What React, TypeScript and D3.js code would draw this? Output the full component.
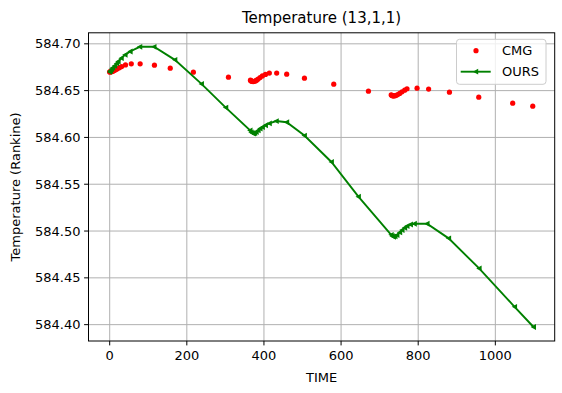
import React from "react";
import * as d3 from "d3";

const cmgTime = [0, 1, 2, 4, 6, 8, 10, 13, 16, 20, 25, 31, 41, 56, 79, 116, 157, 217, 308,
  365, 366, 368, 370, 372, 375, 378, 381, 385, 390, 396, 404, 414, 433, 459, 505, 581, 671,
  730, 731, 733, 735, 737, 740, 743, 747, 752, 758, 765, 771, 797, 827, 881, 957, 1045, 1097];
const cmgTemp = [584.67, 584.67, 584.6701, 584.6702, 584.6705, 584.6708, 584.6712, 584.6718, 584.6725, 584.6733, 584.6745, 584.6757, 584.6775, 584.6786, 584.6786, 584.6772, 584.674, 584.6697, 584.6644,
  584.6612, 584.6606, 584.6601, 584.6598, 584.6597, 584.6599, 584.6604, 584.6612, 584.6624, 584.664, 584.6657, 584.6673, 584.6687, 584.6687, 584.6676, 584.6633, 584.6569, 584.6494,
  584.6456, 584.645, 584.6446, 584.6444, 584.6443, 584.6445, 584.645, 584.6458, 584.647, 584.6487, 584.6505, 584.652, 584.6526, 584.6516, 584.6483, 584.643, 584.6366, 584.6334];

const oursTime = [0, 2, 5, 8, 13, 18, 22, 30, 40, 53, 78, 115, 169, 238, 301,
  364, 367, 370, 373, 376, 380, 385, 390, 396, 404, 414, 432, 459, 505, 575, 645,
  730, 733, 736, 740, 745, 752, 758, 765, 771, 780, 790, 823, 879, 958, 1050, 1099];
const oursTemp = [584.67, 584.6712, 584.673, 584.6745, 584.6765, 584.679, 584.6811, 584.6847, 584.6882, 584.6918, 584.6968, 584.6968, 584.6829, 584.6572, 584.6319,
  584.6075, 584.6055, 584.6046, 584.6042, 584.6047, 584.6058, 584.6075, 584.6095, 584.611, 584.613, 584.615, 584.6175, 584.6162, 584.602, 584.5738, 584.5367,
  584.496, 584.4945, 584.4939, 584.4942, 584.4957, 584.4985, 584.501, 584.5035, 584.5053, 584.507, 584.5078, 584.5078, 584.4922, 584.4601, 584.419, 584.3975];

const xTicks = [0, 200, 400, 600, 800, 1000];
const yTicks = [584.4, 584.45, 584.5, 584.55, 584.6, 584.65, 584.7];

const W = 562, H = 393;
const L = 88.5, R = 554.7, T = 32.8, B = 341;
const FONT = "DejaVu Sans, sans-serif";

export default function App() {
  const allT = [...cmgTime, ...oursTime];
  const allV = [...cmgTemp, ...oursTemp];
  const [t0, t1] = d3.extent(allT) as [number, number];
  const [v0, v1] = d3.extent(allV) as [number, number];
  const mx = (t1 - t0) * 0.05, my = (v1 - v0) * 0.05;
  const x = d3.scaleLinear().domain([t0 - mx, t1 + mx]).range([L, R]);
  const y = d3.scaleLinear().domain([v0 - my, v1 + my]).range([B, T]);

  const ours = oursTime.map((t, i) => [t, oursTemp[i]] as [number, number]);
  const line = d3.line<[number, number]>().x(d => x(d[0])).y(d => y(d[1]));
  const tri = (cx: number, cy: number, s: number) =>
    `M${cx - s},${cy} L${cx + s * 0.85},${cy - s} L${cx + s * 0.85},${cy + s} Z`;
  const green = "#008000";
  const red = "#ff0000";

  return (
    <svg width={W} height={H} style={{ position: "absolute", left: 0, top: 0, background: "#fff" }}
      fontFamily={FONT}>
      <rect x={0} y={0} width={W} height={H} fill="#fff" />
      {xTicks.map(t => (
        <g key={"x" + t}>
          <line x1={x(t)} x2={x(t)} y1={T} y2={B} stroke="#b0b0b0" strokeWidth={1} />
          <line x1={x(t)} x2={x(t)} y1={B} y2={B + 4.4} stroke="#000" strokeWidth={1} />
          <text x={x(t)} y={B + 19} textAnchor="middle" fontSize={13} fill="#000">{t}</text>
        </g>
      ))}
      {yTicks.map(v => (
        <g key={"y" + v}>
          <line x1={L} x2={R} y1={y(v)} y2={y(v)} stroke="#b0b0b0" strokeWidth={1} />
          <line x1={L - 4.4} x2={L} y1={y(v)} y2={y(v)} stroke="#000" strokeWidth={1} />
          <text x={L - 8} y={y(v) + 4.6} textAnchor="end" fontSize={13} fill="#000">{v.toFixed(2)}</text>
        </g>
      ))}
      {cmgTime.map((t, i) => (
        <circle key={"c" + i} cx={x(t)} cy={y(cmgTemp[i])} r={2.6} fill={red} />
      ))}
      <path d={line(ours) || ""} fill="none" stroke={green} strokeWidth={1.9} />
      {ours.map((d, i) => (
        <path key={"o" + i} d={tri(x(d[0]), y(d[1]), 2.9)} fill={green} />
      ))}
      <rect x={L} y={T} width={R - L} height={B - T} fill="none" stroke="#000" strokeWidth={1} />
      <text x={(L + R) / 2} y={23} textAnchor="middle" fontSize={15} fill="#000">Temperature (13,1,1)</text>
      <text x={(L + R) / 2} y={382} textAnchor="middle" fontSize={13} fill="#000">TIME</text>
      <text transform={`translate(20,${(T + B) / 2}) rotate(-90)`} textAnchor="middle" fontSize={13} fill="#000">Temperature (Rankine)</text>
      <g>
        <rect x={456.5} y={39.3} width={89.5} height={45} rx={3} fill="#fff" fillOpacity={0.8} stroke="#cccccc" strokeWidth={1} />
        <circle cx={476} cy={50.7} r={2.6} fill={red} />
        <text x={502} y={55.4} fontSize={13} fill="#000">CMG</text>
        <line x1={460.7} x2={490.7} y1={71.7} y2={71.7} stroke={green} strokeWidth={1.9} />
        <path d={tri(475.7, 71.7, 2.9)} fill={green} />
        <text x={502} y={76.4} fontSize={13} fill="#000">OURS</text>
      </g>
    </svg>
  );
}
